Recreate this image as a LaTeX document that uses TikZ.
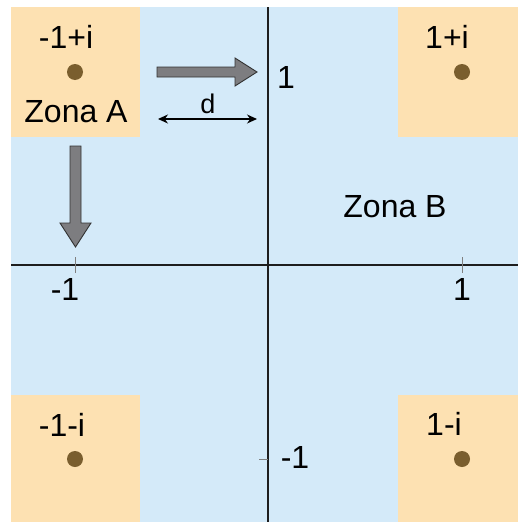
\documentclass[tikz,border=0pt]{standalone}
\usepackage{fontspec}
\setmainfont{Liberation Sans}
\usetikzlibrary{arrows.meta}
\definecolor{bgblue}{RGB}{212,234,249}
\definecolor{zorange}{RGB}{253,225,178}
\definecolor{dotbrown}{RGB}{122,94,46}
\definecolor{arrgrey}{RGB}{125,125,128}
\definecolor{axisc}{RGB}{30,30,30}
\begin{document}
\begin{tikzpicture}[x=1pt,y=-1pt,
  lbl/.style={anchor=base,inner sep=0pt,font=\fontsize{32}{32}\selectfont,text=black},
  zone/.style={fill=zorange,draw=none},
  pt/.style={circle,fill=dotbrown,minimum size=16pt,inner sep=0pt},
  bigarrow/.style={fill=arrgrey,draw=black!80,line width=0.9pt,line join=miter},
  axis/.style={draw=axisc,line width=1.8pt},
  tick/.style={draw=gray,line width=0.7pt}]
\useasboundingbox (0,0) rectangle (518,522);
\fill[bgblue] (11,7) rectangle (518,522);
% zones
\fill[zone] (11,7) rectangle (140,137);
\fill[zone] (398,7) rectangle (518,137);
\fill[zone] (11,395) rectangle (140,522);
\fill[zone] (398,395) rectangle (518,522);
% axes
\coordinate (xl) at (11,265);
\coordinate (xr) at (518,265);
\coordinate (yt) at (268,7);
\coordinate (yb) at (268,522);
\draw[axis] (xl) -- (xr);
\draw[axis] (yt) -- (yb);
% ticks
\draw[tick] (75,257) -- (75,273);
\draw[tick] (462,257) -- (462,273);
\draw[tick] (259,459) -- (268,459);
% points
\node[pt] (pA) at (75,72) {};
\node[pt] (pB) at (462,72) {};
\node[pt] (pC) at (75,459) {};
\node[pt] (pD) at (462,459) {};
% labels
\node[lbl] (lA) at (66,48) {-1+i};
\node[lbl] (lB) at (447,48) {1+i};
\node[lbl] (lC) at (62,436) {-1-i};
\node[lbl] (lD) at (444,435) {1-i};
\node[lbl] (zA) at (76,122) {Zona A};
\node[lbl] (zB) at (395,217) {Zona B};
\node[lbl] (xm) at (65,300) {-1};
\node[lbl] (xp) at (462,300) {1};
\node[lbl] (yp) at (286,88) {1};
\node[lbl] (ym) at (295,468) {-1};
% big arrows
\draw[bigarrow] (157,67) -- (235,67) -- (235,58) -- (257,72) -- (235,86) -- (235,77) -- (157,77) -- cycle;
\draw[bigarrow] (70,146) -- (81,146) -- (81,223) -- (91,223) -- (75.5,247) -- (60,223) -- (70,223) -- cycle;
% d arrow
\coordinate (dl) at (158,119);
\coordinate (dr) at (257,119);
\draw[line width=1.2pt,{Stealth[length=10pt,width=9pt]}-{Stealth[length=10pt,width=9pt]}] (dl) -- (dr);
\node[lbl,font=\fontsize{27}{27}\selectfont] (dlab) at (208,113) {d};
\end{tikzpicture}
\end{document}
